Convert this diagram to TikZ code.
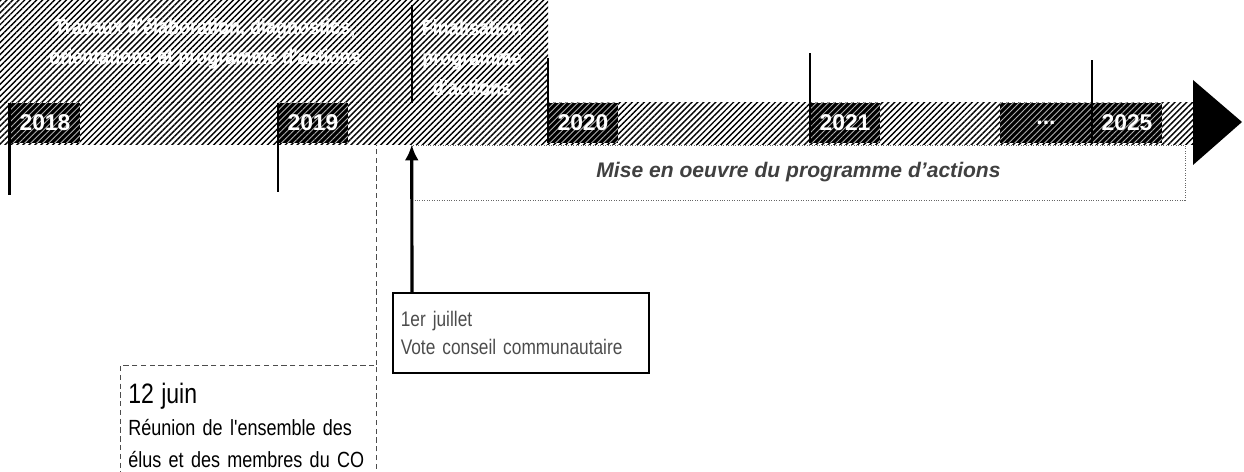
\documentclass[tikz,border=0pt]{standalone}
\usepackage{fontspec}
\setmainfont{Liberation Sans}
\newfontfamily\narrowfont{Liberation Sans}[FakeStretch=0.82]
\usetikzlibrary{patterns.meta, arrows.meta, positioning}

\begin{document}
\begin{tikzpicture}[x=0.02cm, y=-0.02cm,
  hatch/.style={pattern={Lines[angle=45,distance=2.4pt,line width=0.8pt]}, pattern color=black},
  yearbox/.style={preaction={fill=black}, pattern={Lines[angle=45,distance=2.4pt,line width=0.5pt]}, pattern color=gray!60,
    minimum width=1.4cm, minimum height=0.8cm, inner sep=0pt, text=white, font=\bfseries\fontsize{13}{15}\selectfont},
  hatchtext/.style={text=white, align=center, font=\narrowfont\bfseries\fontsize{12.5}{17}\selectfont},
  tick/.style={line width=1.3pt},
  infobox/.style={anchor=north west, align=left, inner xsep=0.16cm, inner ysep=0.12cm, font=\narrowfont}]
  \useasboundingbox (0,0) rectangle (1244,472);

  % hatched band and arrow head
  \fill[hatch] (0,0) rectangle (548,103);
  \fill[hatch] (0,103) rectangle (1193,145);
  \fill (1193,80) -- (1242,122) -- (1193,165) -- cycle;

  % phases
  \node[hatchtext] (travaux) at (205,44) {Travaux d'élaboration, diagnostics,\\orientations et programme d'actions};
  \node[hatchtext] (final) at (472,58) {Finalisation\\programme\\d'actions};
  \draw[tick] (412,5) -- (412,103);

  % years
  \node[yearbox] (y2018) at (45,123) {2018};
  \node[yearbox] (y2019) at (313,123) {2019};
  \node[yearbox] (y2020) at (583,123) {2020};
  \node[yearbox] (y2021) at (845,123) {2021};
  \node[yearbox, minimum width=1.84cm] (ydots) at (1046,123) {...};
  \node[yearbox] (y2025) at (1127,123) {2025};

  % ticks
  \draw[tick] (y2018.north west) -- ++(0,92);
  \draw[tick] (y2019.north west) -- ++(0,89);
  \draw[tick] (y2020.south west) -- ++(0,-85);
  \draw[tick] (y2021.south west) -- ++(0,-90);
  \draw[tick] (y2025.south west) -- ++(0,-83);

  % mise en oeuvre
  \node[draw=black!60, densely dotted, minimum width=15.46cm, minimum height=1.1cm,
    text=black!75, font=\bfseries\itshape\fontsize{12}{14}\selectfont] (mise) at (798.5,172.5) {Mise en oeuvre du programme d'actions};

  % events
  \node[infobox, draw=black, line width=0.9pt, text width=4.8cm, minimum height=1.6cm, text=black!70,
    font=\narrowfont\fontsize{12}{16}\selectfont] (juillet) at (392,292) {1er juillet\\Vote conseil communautaire};
  \node[infobox, draw=black!70, densely dashed, text width=4.8cm, minimum height=2.4cm,
    font=\narrowfont\fontsize{12.5}{18}\selectfont] (juin) at (120,365) {{\fontsize{16}{19}\selectfont 12 juin}\\Réunion de l'ensemble des\\élus et des membres du CO};

  \draw[line width=1.8pt, -{Latex[length=9pt,width=8pt]}] (juillet.north west) ++(20,0) -- (mise.north west);
  \draw[densely dashed, black!70] (juin.north east) -- (juin.north east |- mise.north);
\end{tikzpicture}
\end{document}
